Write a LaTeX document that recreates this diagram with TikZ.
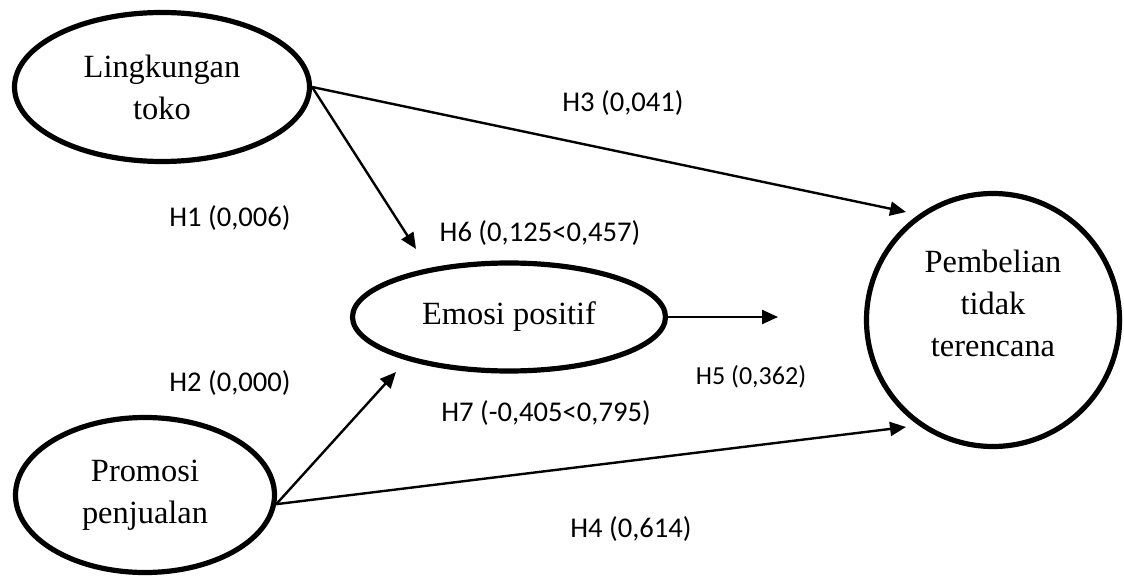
\documentclass[tikz,border=0pt]{standalone}
\usepackage{fontspec}
\setmainfont{Liberation Serif}
\newfontfamily\hypfont{Carlito}
\usetikzlibrary{arrows.meta}
\usetikzlibrary{shapes.geometric}

\begin{document}
\begin{tikzpicture}[x=0.5pt,y=-0.5pt,
    construct/.style={draw,ellipse,line width=2.6pt,align=center,inner sep=0pt,
        font=\fontsize{16.2}{21}\selectfont},
    hyparrow/.style={line width=1.2pt,-{Triangle[length=8pt,width=7pt]}},
    hyp/.style={font=\hypfont\fontsize{14.3}{17}\selectfont}]
    \useasboundingbox (0,0) rectangle (1124,577);

    % konstruk
    \node[construct,minimum width=147.5pt,minimum height=74.5pt] (toko) at (162,87) {Lingkungan\\toko};
    \node[construct,minimum width=156.5pt,minimum height=54pt] (emosi) at (509,317) {Emosi positif};
    \node[construct,minimum width=129.5pt,minimum height=77.5pt] (promo) at (145,495) {Promosi\\penjualan};
    \node[draw,circle,line width=2.6pt,minimum size=126.5pt] (beli) at (993,320) {};
    \node[align=center,font=\fontsize{16.2}{21}\selectfont] (belitext) at (993,303) {Pembelian\\tidak\\terencana};

    % ujung panah
    \coordinate (h1end) at (416,249);
    \coordinate (h3end) at (906,212);
    \coordinate (h5end) at (778,317);
    \coordinate (h2end) at (396,372);
    \coordinate (h4end) at (906,427);

    \draw[hyparrow] (toko.east) -- (h1end);
    \draw[hyparrow] (toko.east) -- (h3end);
    \draw[hyparrow] (emosi.east) -- (h5end);
    \draw[hyparrow] (promo.-4) -- (h2end);
    \draw[hyparrow] (promo.-4) -- (h4end);

    % hipotesis
    \node[hyp] (h1) at (230,218) {H1 (0,006)};
    \node[hyp] (h2) at (230,383) {H2 (0,000)};
    \node[hyp] (h3) at (623,103) {H3 (0,041)};
    \node[hyp] (h4) at (631,529) {H4 (0,614)};
    \node[hyp,font=\hypfont\fontsize{13}{16}\selectfont] (h5) at (751,377) {H5 (0,362)};
    \node[hyp] (h6) at (540,233) {H6 (0,125<0,457)};
    \node[hyp] (h7) at (546,413) {H7 (-0,405<0,795)};
\end{tikzpicture}
\end{document}
